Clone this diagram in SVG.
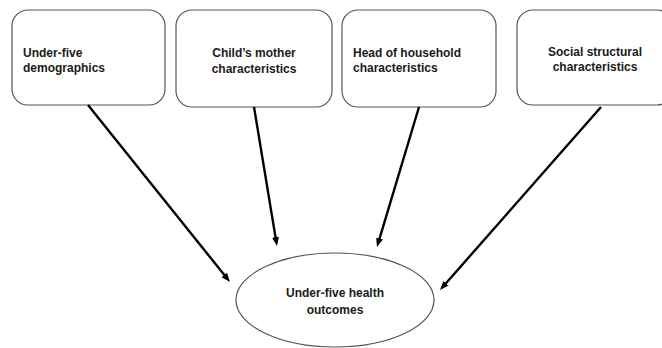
<svg xmlns="http://www.w3.org/2000/svg" width="662" height="348" viewBox="0 0 662 348">
<style>
.box{fill:#fff;stroke:#555;stroke-width:1.2}
.lbl{font-family:"Liberation Sans",Arial,sans-serif;font-weight:bold;font-size:12px;fill:#1a1a1a}
.c{text-anchor:middle}
.arr{stroke:#000;stroke-width:2.4;fill:none;marker-end:url(#ah)}
</style>
<defs>
<marker id="ah" markerUnits="userSpaceOnUse" markerWidth="10" markerHeight="8" refX="3" refY="3.5" orient="auto">
<path d="M0,0 L9,3.5 L0,7 z" fill="#000"/>
</marker>
</defs>
<rect width="662" height="348" fill="#fff"/>
<g id="n1">
<rect class="box" x="12" y="10" width="153" height="95" rx="16"/>
<text class="lbl" x="23" y="57">Under-five</text>
<text class="lbl" x="23" y="72">demographics</text>
</g>
<g id="n2">
<rect class="box" x="176" y="10" width="156" height="97" rx="16"/>
<text class="lbl c" x="254" y="57">Child’s mother</text>
<text class="lbl c" x="254" y="73">characteristics</text>
</g>
<g id="n3">
<rect class="box" x="342" y="10" width="154" height="97" rx="16"/>
<text class="lbl" x="353" y="57">Head of household</text>
<text class="lbl" x="353" y="72">characteristics</text>
</g>
<g id="n4">
<rect class="box" x="517" y="10" width="156" height="95" rx="16"/>
<text class="lbl c" x="595" y="56">Social structural</text>
<text class="lbl c" x="595" y="71">characteristics</text>
</g>
<g id="n5">
<ellipse class="box" cx="335" cy="300" rx="99" ry="47"/>
<text class="lbl c" x="335" y="297">Under-five health</text>
<text class="lbl c" x="335" y="314">outcomes</text>
</g>
<g id="connectors">
<line class="arr" x1="88" y1="105" x2="226.2" y2="277.3"/>
<line class="arr" x1="254" y1="107" x2="276" y2="240.1"/>
<line class="arr" x1="419" y1="107" x2="378.7" y2="241.3"/>
<line class="arr" x1="601" y1="107" x2="444" y2="285.5"/>
</g>
</svg>
